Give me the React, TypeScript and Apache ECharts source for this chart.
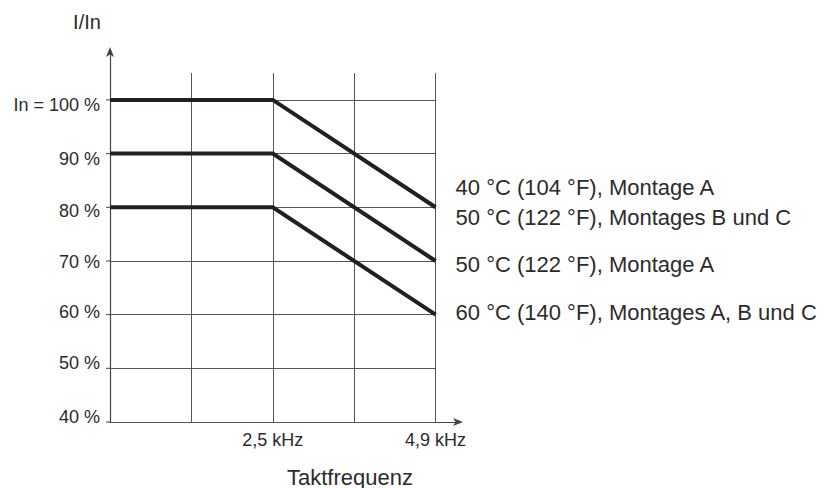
import React, { useEffect, useRef } from "react";
import * as echarts from "echarts";

const xTickLabels = ["", "", "2,5 kHz", "", "4,9 kHz"];
const xPositions = [0, 2, 4];
const yTickValues = [40, 50, 60, 70, 80, 90, 100];
const yTickLabels = ["40 %", "50 %", "60 %", "70 %", "80 %", "90 %", "In = 100 %"];
const seriesA = [100, 100, 80];
const seriesB = [90, 90, 70];
const seriesC = [80, 80, 60];
const seriesNames = [
  "40 °C (104 °F), Montage A\n50 °C (122 °F), Montages B und C",
  "50 °C (122 °F), Montage A",
  "60 °C (140 °F), Montages A, B und C",
];
const yAxisTitle = "I/In";
const xAxisTitle = "Taktfrequenz";

const FONT = "'Liberation Sans', Arial, Helvetica, sans-serif";
const TEXT = "#2b2b2b";
const LINE = "#231f20";
const GRID = "#555555";
const AXIS = "#444444";

// vertical nudges of the y tick labels (px, + = down)
const yLabelShift = [-5, -5, -3, 1, 4, 5, 5];

export default function App() {
  const ref = useRef<HTMLDivElement>(null);
  useEffect(() => {
    if (!ref.current) return;
    const chart = echarts.init(ref.current, undefined, { renderer: "svg" });
    const gridTop = 105;
    const gridLines: any[] = [];
    yTickValues.forEach((v) => {
      gridLines.push([{ coord: [0, v] }, { coord: [4, v] }]);
    });
    [1, 2, 3, 4].forEach((x) => {
      gridLines.push([{ coord: [x, 40] }, { coord: [x, gridTop] }]);
    });
    const offsets = [
      [0, -5],
      [0, 4],
      [0, -2],
    ];
    const rich: any = {};
    yLabelShift.forEach((s, i) => {
      rich["r" + i] = {
        fontSize: 18,
        fontFamily: FONT,
        color: TEXT,
        padding: s >= 0 ? [2 * s, 0, 0, 0] : [0, 0, -2 * s, 0],
      };
    });
    const mk = (vals: number[], i: number) => ({
      type: "line",
      data: xPositions.map((x, k) => [x, vals[k]]),
      symbol: "none",
      z: 5,
      lineStyle: { color: LINE, width: 4, cap: "butt", join: "miter" },
      endLabel: {
        show: true,
        formatter: () => seriesNames[i],
        color: TEXT,
        fontSize: 22,
        fontFamily: FONT,
        distance: 20,
        lineHeight: 30,
        offset: offsets[i],
      },
    });
    chart.setOption({
      animation: false,
      grid: { left: 110, right: 374, top: 50, bottom: 66 },
      xAxis: {
        type: "value",
        min: 0,
        max: 4.3,
        interval: 1,
        splitLine: { show: false },
        axisTick: { show: false },
        axisLine: {
          show: true,
          symbol: ["none", "arrow"],
          symbolSize: [6, 10],
          symbolOffset: [0, 3],
          lineStyle: { color: AXIS, width: 1.2 },
        },
        axisLabel: {
          formatter: (v: number) => xTickLabels[v] ?? "",
          color: TEXT,
          fontSize: 18,
          fontFamily: FONT,
          margin: 9,
          showMaxLabel: true,
        },
      },
      yAxis: {
        type: "value",
        min: 40,
        max: 109.3,
        interval: 10,
        splitLine: { show: false },
        axisTick: { show: false },
        axisLine: {
          show: true,
          symbol: ["none", "arrow"],
          symbolSize: [6, 10],
          symbolOffset: [0, 3],
          lineStyle: { color: AXIS, width: 1.2 },
        },
        axisLabel: {
          formatter: (v: number) => {
            const idx = yTickValues.indexOf(v);
            return idx >= 0 ? `{r${idx}|${yTickLabels[idx]}}` : "";
          },
          rich,
          color: TEXT,
          fontSize: 18,
          fontFamily: FONT,
          margin: 10,
        },
      },
      series: [
        {
          type: "line",
          data: [],
          z: 1,
          markLine: {
            silent: true,
            symbol: "none",
            label: { show: false },
            lineStyle: { color: GRID, width: 1, type: "solid" },
            data: gridLines,
          },
        },
        mk(seriesA, 0),
        mk(seriesB, 1),
        mk(seriesC, 2),
      ],
    });

    // y-axis ticks placed through the axis scale
    const ticks: any[] = yTickValues.map((v) => {
      const p = chart.convertToPixel({ gridIndex: 0 }, [0, v]) as number[];
      return {
        type: "line",
        shape: { x1: p[0] - 4, y1: p[1], x2: p[0], y2: p[1] },
        style: { stroke: AXIS, lineWidth: 1 },
      };
    });
    chart.setOption({
      graphic: [
        {
          type: "text",
          x: 87,
          y: 22,
          style: {
            text: yAxisTitle,
            fill: TEXT,
            font: `20px ${FONT}`,
            textAlign: "center",
            textVerticalAlign: "middle",
          },
        },
        {
          type: "text",
          x: 350,
          y: 477,
          style: {
            text: xAxisTitle,
            fill: TEXT,
            font: `22px ${FONT}`,
            textAlign: "center",
            textVerticalAlign: "middle",
          },
        },
        ...ticks,
      ],
    });
    return () => chart.dispose();
  }, []);
  return (
    <div
      ref={ref}
      style={{ position: "absolute", left: 0, top: 0, width: 834, height: 488, background: "#fff" }}
    />
  );
}
